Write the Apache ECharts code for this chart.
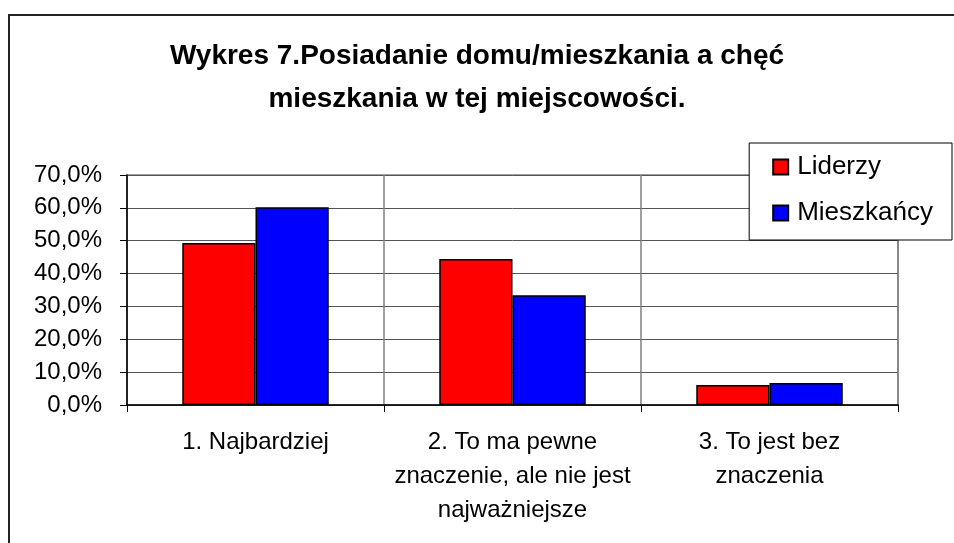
<!DOCTYPE html>
<html>
<head>
<meta charset="utf-8">
<script src="https://cdn.jsdelivr.net/npm/echarts@6/dist/echarts.min.js"></script>
<style>
    html, body { margin: 0; padding: 0; background: #fff; }
    #chart { width: 954px; height: 543px; }
</style>
</head>
<body>
<div id="chart"></div>
<script>
// data
const categories = [
    '1. Najbardziej',
    '2. To ma pewne\nznaczenie, ale nie jest\nnajważniejsze',
    '3. To jest bez\nznaczenia',
];
const seriesNames = ['Liderzy', 'Mieszkańcy'];
const liderzy = [49.3, 44.4, 6.1];
const mieszkancy = [60.2, 33.4, 6.7];
const yTicks = [0, 10, 20, 30, 40, 50, 60, 70];

const FONT = '"Liberation Sans", Arial, sans-serif';

const myChart = echarts.init(document.getElementById('chart'), null, { renderer: 'canvas' });

const barStyle = color => ({
    color: color,
    borderColor: '#000',
    borderWidth: 1.5,
});

const option = {
    animation: false,
    backgroundColor: '#fff',
    title: {
        text: 'Wykres 7.Posiadanie domu/mieszkania a chęć\nmieszkania w tej miejscowości.',
        left: 'center',
        top: 30,
        textStyle: {
            fontFamily: FONT,
            fontSize: 28,
            fontWeight: 'bold',
            color: '#000',
            lineHeight: 43,
        },
    },
    legend: {
        orient: 'vertical',
        right: 2,
        top: 143,
        padding: [11, 19, 14, 23],
        itemGap: 20,
        itemWidth: 15,
        itemHeight: 15,
        borderColor: '#000',
        borderWidth: 1,
        backgroundColor: '#fff',
        data: seriesNames.map(n => ({ name: n, icon: 'rect' })),
        textStyle: {
            fontFamily: FONT,
            fontSize: 26,
            color: '#000',
            padding: [0, 0, 0, 4],
        },
    },
    grid: {
        left: 127,
        right: 56,
        top: 175,
        bottom: 138,
        show: true,
        borderColor: '#808080',
        borderWidth: 1.5,
        containLabel: false,
    },
    xAxis: {
        type: 'category',
        data: categories,
        axisLine: { lineStyle: { color: '#000', width: 1.5 } },
        axisTick: { show: true, length: 7, lineStyle: { color: '#000' } },
        splitLine: { show: true, lineStyle: { color: '#808080', width: 1.5 } },
        axisLabel: {
            interval: 0,
            margin: 20,
            fontFamily: FONT,
            fontSize: 24,
            lineHeight: 34,
            color: '#000',
            align: 'center',
        },
    },
    yAxis: {
        type: 'value',
        min: yTicks[0],
        max: yTicks[yTicks.length - 1],
        interval: 10,
        axisLine: { show: true, lineStyle: { color: '#000', width: 1.5 } },
        axisTick: { show: true, length: 7, lineStyle: { color: '#000' } },
        splitLine: { lineStyle: { color: '#555', width: 1 } },
        axisLabel: {
            margin: 25,
            fontFamily: FONT,
            fontSize: 24,
            color: '#000',
            formatter: v => v.toFixed(1).replace('.', ',') + '%',
        },
    },
    series: [
        {
            name: seriesNames[0],
            type: 'bar',
            data: liderzy,
            barGap: '0%',
            barCategoryGap: '43%',
            itemStyle: barStyle('#ff0000'),
        },
        {
            name: seriesNames[1],
            type: 'bar',
            data: mieszkancy,
            itemStyle: barStyle('#0000ff'),
        },
    ],
    graphic: [
        {
            type: 'polyline',
            shape: { points: [[9, 543], [9, 15], [954, 15]] },
            style: { stroke: '#222', lineWidth: 2, fill: null },
            silent: true,
        },
    ],
};

myChart.setOption(option);
window.addEventListener('resize', () => myChart.resize());
</script>
</body>
</html>
